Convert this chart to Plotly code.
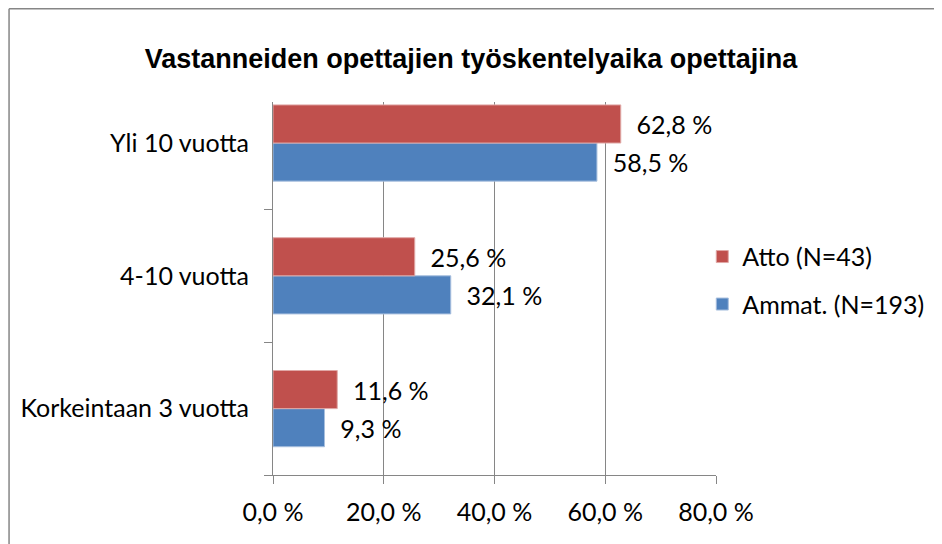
import plotly.graph_objects as go

categories = ["Korkeintaan 3 vuotta", "4-10 vuotta", "Yli 10 vuotta"]
atto_values = [11.6, 25.6, 62.8]
ammat_values = [9.3, 32.1, 58.5]
series_names = ["Atto (N=43)", "Ammat. (N=193)"]
x_ticks = [0, 20, 40, 60, 80]
x_tick_labels = ["0,0 %", "20,0 %", "40,0 %", "60,0 %", "80,0 %"]
title_text = "Vastanneiden opettajien työskentelyaika opettajina"

RED = "#C0504D"
BLUE = "#4F81BD"
GRAY = "#868686"
FONT = "Lato"
FS = 25

# page body has an 8px margin; figure is sized/offset to compensate
W, H = 934, 536
ML, MR, MT, MB = 265, 225.5, 94, 68.7
PW = W - ML - MR
PH = H - MT - MB

fig = go.Figure()
fig.add_trace(go.Bar(
    y=categories, x=ammat_values, name=series_names[1], orientation="h",
    marker=dict(color=BLUE, line=dict(color="#a7bfde", width=1)),
    texttemplate="\u00a0\u00a0%{x:.1f} %", textposition="outside",
    textfont=dict(family=FONT, size=FS, color="black"),
    cliponaxis=False, constraintext="none", legendgroup="b", legendrank=2,
))
fig.add_trace(go.Bar(
    y=categories, x=atto_values, name=series_names[0], orientation="h",
    marker=dict(color=RED, line=dict(color="#e0a8a6", width=1)),
    texttemplate="\u00a0\u00a0%{x:.1f} %", textposition="outside",
    textfont=dict(family=FONT, size=FS, color="black"),
    cliponaxis=False, constraintext="none", legendgroup="a", legendrank=1,
))

fig.update_layout(
    width=W, height=H,
    margin=dict(l=ML, r=MR, t=MT, b=MB, autoexpand=False),
    paper_bgcolor="white", plot_bgcolor="white",
    separators=", ",
    barmode="group", bargap=0.426, bargroupgap=0,
    font=dict(family=FONT, size=FS, color="black"),
    title=dict(text=title_text, x=471 / W - 8 / W, xanchor="center", xref="container",
               y=1 - 51 / H, yanchor="middle", yref="container",
               font=dict(family="Liberation Sans", size=27, color="black", weight="bold")),
    showlegend=True,
    legend=dict(x=0.969, xanchor="left", y=0.522, yanchor="middle",
                traceorder="grouped", tracegroupgap=12,
                font=dict(family=FONT, size=FS, color="black"),
                bgcolor="rgba(0,0,0,0)"),
    xaxis=dict(range=[0, 80], tickvals=x_ticks, ticktext=x_tick_labels,
               showline=True, linecolor=GRAY, linewidth=1,
               ticks="outside", ticklen=8, tickcolor=GRAY,
               showgrid=True, gridcolor=GRAY, gridwidth=1, zeroline=False,
               ticklabelstandoff=7, automargin=False,
               tickfont=dict(family=FONT, size=FS, color="black")),
    yaxis=dict(categoryorder="array", categoryarray=categories,
               range=[-0.5, 2.309],
               showline=True, linecolor=GRAY, linewidth=1,
               ticks="outside", ticklen=8, tickcolor=GRAY, tickson="boundaries",
               showgrid=False, zeroline=False, ticklabelstandoff=18, automargin=False,
               tickfont=dict(family=FONT, size=FS, color="black")),
    shapes=[
        dict(type="line", xref="paper", yref="paper",
             x0=(0.75 - ML) / PW, x1=3, y0=1 + (MT - 0.75) / PH, y1=1 + (MT - 0.75) / PH,
             line=dict(color=GRAY, width=1.5)),
        dict(type="line", xref="paper", yref="paper",
             x0=(0.75 - ML) / PW, x1=(0.75 - ML) / PW, y0=-2, y1=1 + (MT - 0.75) / PH,
             line=dict(color=GRAY, width=1.5)),
    ],
)

fig.write_html("out.html")
